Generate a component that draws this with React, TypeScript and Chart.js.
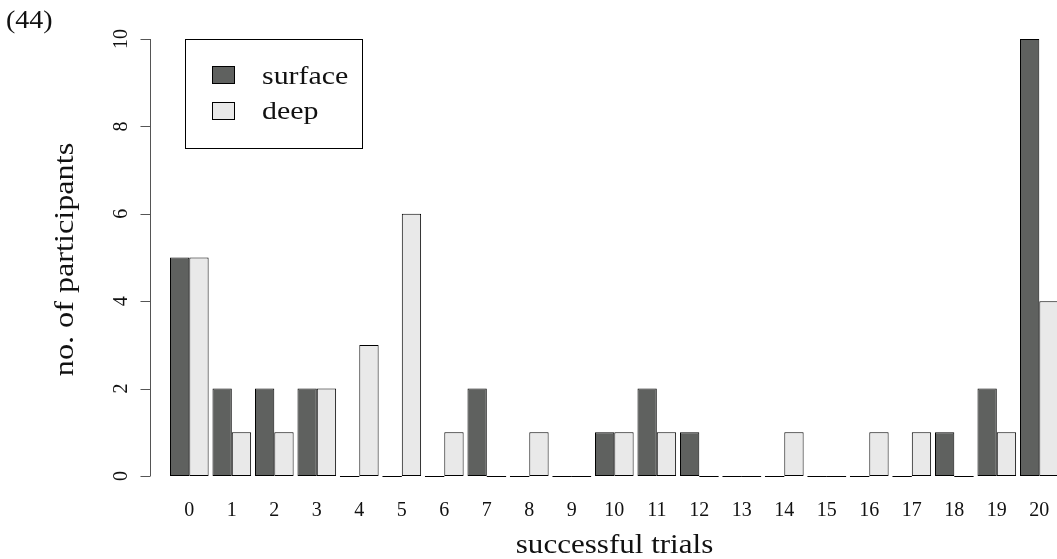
import React, { useEffect, useRef } from "react";
import { Chart, registerables } from "chart.js";

Chart.register(...registerables);

// Number of successful trials (0–20) per participant group
const trialLabels: string[] = [
  "0", "1", "2", "3", "4", "5", "6", "7", "8", "9", "10",
  "11", "12", "13", "14", "15", "16", "17", "18", "19", "20",
];
const surfaceCounts: number[] = [5, 2, 2, 2, 0, 0, 0, 2, 0, 0, 1, 2, 1, 0, 0, 0, 0, 0, 1, 2, 10];
const deepCounts: number[] = [5, 1, 1, 2, 3, 6, 1, 0, 1, 0, 1, 1, 0, 0, 1, 0, 1, 1, 0, 1, 4];
const yTicks: number[] = [0, 2, 4, 6, 8, 10];

const seriesNames = ["surface", "deep"];
const SURFACE_FILL = "#5f615f";
const DEEP_FILL = "#e9e9e9";
const INK = "#111111";
const SERIF = '"Liberation Serif", "DejaVu Serif", serif';

const CANVAS_W = 1100;
const CANVAS_H = 559;

// Text drawn with a slight horizontal stretch for a wider book-face look
function drawText(
  ctx: CanvasRenderingContext2D,
  text: string,
  x: number,
  y: number,
  size: number,
  align: "left" | "center",
  stretch: number,
  angle = 0
) {
  ctx.save();
  ctx.font = `${size}px ${SERIF}`;
  ctx.textAlign = "left";
  ctx.textBaseline = "alphabetic";
  ctx.translate(x, y);
  if (angle) ctx.rotate(angle);
  ctx.scale(stretch, 1);
  const w = ctx.measureText(text).width;
  ctx.fillText(text, align === "center" ? -w / 2 : 0, 0);
  ctx.restore();
}

// Draws R-style axes, labels, legend and zero-height bar strokes
const basePlotDecor = {
  id: "basePlotDecor",
  afterDatasetsDraw(chart: any) {
    const ctx: CanvasRenderingContext2D = chart.ctx;
    const xs = chart.scales.x;
    const ys = chart.scales.y;
    ctx.save();

    // zero-height bars show as a flat stroke on the baseline
    ctx.strokeStyle = "#000";
    ctx.lineWidth = 1;
    chart.data.datasets.forEach((ds: any, di: number) => {
      const meta = chart.getDatasetMeta(di);
      meta.data.forEach((el: any, i: number) => {
        if (ds.data[i] === 0) {
          const p = el.getProps(["x", "width", "base"], true);
          ctx.beginPath();
          ctx.moveTo(p.x - p.width / 2, Math.round(p.base) + 0.5);
          ctx.lineTo(p.x + p.width / 2, Math.round(p.base) + 0.5);
          ctx.stroke();
        }
      });
    });

    // y axis: line spanning first to last tick, outward ticks
    const axisX = 150.5;
    const yTop = ys.getPixelForValue(yTicks[yTicks.length - 1]);
    const yBot = ys.getPixelForValue(yTicks[0]);
    ctx.strokeStyle = "#555";
    ctx.beginPath();
    ctx.moveTo(axisX, yTop);
    ctx.lineTo(axisX, yBot);
    yTicks.forEach((t) => {
      const py = Math.round(ys.getPixelForValue(t)) + 0.5;
      ctx.moveTo(axisX - 10, py);
      ctx.lineTo(axisX, py);
    });
    ctx.stroke();

    ctx.fillStyle = INK;
    // y tick labels, rotated to run along the axis
    yTicks.forEach((t) => {
      drawText(ctx, String(t), 127, ys.getPixelForValue(t), 20, "center", 1.0, -Math.PI / 2);
    });

    // x category labels under each group
    trialLabels.forEach((lab, i) => {
      drawText(ctx, lab, xs.getPixelForValue(i), 515.5, 20, "center", 1.0);
    });

    // axis titles
    drawText(ctx, "successful trials", 614.5, 553, 27, "center", 1.15);
    drawText(ctx, "no. of participants", 73, 259.5, 28, "center", 1.15, -Math.PI / 2);

    // panel tag
    drawText(ctx, "(44)", 6, 28, 25, "left", 1.12);

    // legend box
    ctx.strokeStyle = "#000";
    ctx.lineWidth = 1;
    ctx.strokeRect(185.5, 39.5, 177, 109);
    const keys = [
      { name: seriesNames[0], fill: SURFACE_FILL, top: 66, base: 83.5 },
      { name: seriesNames[1], fill: DEEP_FILL, top: 102, base: 118.5 },
    ];
    keys.forEach((k) => {
      ctx.fillStyle = k.fill;
      ctx.fillRect(212, k.top, 23, 18);
      ctx.strokeRect(212.5, k.top + 0.5, 22, 17);
      ctx.fillStyle = INK;
      drawText(ctx, k.name, 262, k.base, 26, "left", 1.15);
    });

    ctx.restore();
  },
};

export default function App() {
  const canvasRef = useRef<HTMLCanvasElement | null>(null);

  useEffect(() => {
    const canvas = canvasRef.current;
    if (!canvas) return;
    const chart = new Chart(canvas, {
      type: "bar",
      data: {
        labels: trialLabels,
        datasets: [
          {
            label: seriesNames[0],
            data: surfaceCounts,
            backgroundColor: SURFACE_FILL,
            borderColor: "#000",
            borderWidth: 1,
            borderSkipped: false,
          },
          {
            label: seriesNames[1],
            data: deepCounts,
            backgroundColor: DEEP_FILL,
            borderColor: "#000",
            borderWidth: 1,
            borderSkipped: false,
          },
        ],
      },
      options: {
        responsive: false,
        animation: false,
        devicePixelRatio: 1,
        layout: {
          padding: { left: 168.05, right: CANVAS_W - 1060.55, top: 39, bottom: CANVAS_H - 476 },
        },
        datasets: {
          bar: { categoryPercentage: 2 / 2.2, barPercentage: 1 },
        },
        scales: {
          x: { display: false },
          y: { display: false, min: 0, max: 10 },
        },
        plugins: {
          legend: { display: false },
          tooltip: { enabled: false },
        },
      },
      plugins: [basePlotDecor],
    });
    return () => chart.destroy();
  }, []);

  return (
    <div
      style={{
        position: "fixed",
        left: 0,
        top: 0,
        width: 1057,
        height: CANVAS_H,
        overflow: "hidden",
        background: "#fff",
      }}
    >
      <canvas ref={canvasRef} width={CANVAS_W} height={CANVAS_H} style={{ display: "block" }} />
    </div>
  );
}
